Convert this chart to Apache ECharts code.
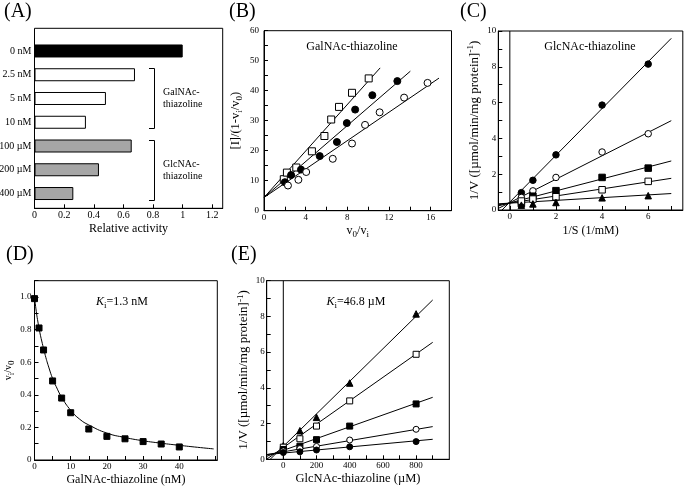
<!DOCTYPE html>
<html><head><meta charset="utf-8">
<script src="https://cdn.jsdelivr.net/npm/echarts@6/dist/echarts.min.js"></script>
<style>html,body{margin:0;padding:0;background:#fff}#c{width:685px;height:486px}</style>
</head><body><div id="c"></div>
<script>
const FONT = '"Liberation Serif", "Times New Roman", serif';

// ---------- Panel A ----------
const aCategories = ['0 nM', '2.5 nM', '5 nM', '10 nM', '100 µM', '200 µM', '400 µM'];
const aValues = [1.0, 0.678, 0.482, 0.347, 0.656, 0.435, 0.262];
const aFill = ['#000', '#fff', '#fff', '#fff', '#a6a6a6', '#a6a6a6', '#a6a6a6'];
const aXLabels = [0, 0.2, 0.4, 0.6, 0.8, 1, 1.2];

// ---------- Panel B ----------
const bSquareX = [1.9, 2.2, 3.1, 4.6, 5.8, 6.45, 7.2, 8.45, 10.05];
const bSquareY = [10.5, 12.7, 14.4, 19.8, 24.9, 30.4, 34.6, 39.3, 44.1];
const bFilledX = [2.0, 2.6, 3.55, 5.35, 7.0, 7.95, 8.75, 10.4, 12.8];
const bFilledY = [9.5, 11.9, 13.7, 18.2, 22.9, 29.2, 33.7, 38.5, 43.2];
const bOpenX = [2.3, 3.3, 4.05, 6.6, 8.45, 9.7, 11.1, 13.45, 15.7];
const bOpenY = [8.4, 10.3, 12.9, 17.3, 22.4, 28.6, 32.8, 37.7, 42.6];
const bLineStart = [4.4, 4.4, 4.4];          // y at x = 0
const bLineEndX = [11.15, 14.05, 16.8];
const bLineEndY = [47.6, 46.5, 44.2];
const bXLabels = [0, 4, 8, 12, 16];
const bYLabels = [0, 10, 20, 30, 40, 50, 60];

// ---------- Panel C ----------
const cX = [0.5, 1, 2, 4, 6];
const cFilledCircle = [0.97, 1.66, 3.08, 5.86, 8.15];
const cOpenCircle = [0.7, 1.07, 1.82, 3.24, 4.26];
const cFilledSquare = [0.36, 0.77, 1.08, 1.82, 2.34];
const cOpenSquare = [0.5, 0.61, 0.74, 1.13, 1.6];
const cTriangle = [0.27, 0.34, 0.42, 0.68, 0.8];
const cLineX = [-0.5, 7];
const cLineStart = [-0.21, 0.086, 0.23, 0.29, 0.346];
const cLineEnd = [9.59, 4.99, 2.74, 1.77, 0.92];
const cXLabels = [0, 2, 4, 6];
const cYLabels = [0, 2, 4, 6, 8, 10];

// ---------- Panel D ----------
const dX = [0, 1.25, 2.5, 5, 7.5, 10, 15, 20, 25, 30, 35, 40];
const dY = [0.99, 0.81, 0.675, 0.485, 0.38, 0.29, 0.19, 0.145, 0.13, 0.113, 0.098, 0.08];
const dCurveX = [0, 0.5, 1, 1.5, 2, 3, 4, 5, 6, 7.5, 10, 12.5, 15, 20, 25, 30, 35, 40, 45, 49.5];
const dCurveY = [1.0, 0.91, 0.84, 0.78, 0.73, 0.64, 0.565, 0.5, 0.45, 0.385, 0.305, 0.25, 0.215, 0.165, 0.138, 0.118, 0.103, 0.09, 0.078, 0.068];
const dXLabels = [0, 10, 20, 30, 40];
const dYLabels = [0, 0.2, 0.4, 0.6, 0.8, 1.0];

// ---------- Panel E ----------
const eX = [0, 100, 200, 400, 800];
const eTriangle = [0.76, 1.6, 2.35, 4.27, 8.14];
const eOpenSquare = [0.68, 1.15, 1.86, 3.27, 5.88];
const eFilledSquare = [0.55, 0.73, 1.1, 1.86, 3.1];
const eOpenCircle = [0.47, 0.6, 0.72, 1.08, 1.68];
const eFilledCircle = [0.38, 0.42, 0.52, 0.7, 0.99];
const eLineX = [-100, 900];
const eLineStart = [-0.19, 0.006, 0.17, 0.263, 0.264];
const eLineEnd = [8.92, 6.55, 3.47, 1.83, 1.12];
const eXLabels = [0, 200, 400, 600, 800];
const eYLabels = [0, 2, 4, 6, 8, 10];

// ---------- helpers ----------
function range(a, b, s) { const r = []; for (let v = a; v <= b + 1e-9; v += s) r.push(+v.toFixed(6)); return r; }
function zip(xs, ys) { return xs.map((x, i) => [x, ys[i]]); }
const BLACK = '#000';
const richSub = { sub: { fontSize: 9, verticalAlign: 'bottom', fontFamily: FONT, color: BLACK, lineHeight: 16 },
                  sup: { fontSize: 9, verticalAlign: 'top', fontFamily: FONT, color: BLACK, lineHeight: 16 } };

function valAxis(o) {
  return {
    type: 'value', gridIndex: o.grid, min: o.min, max: o.max,
    axisLine: { show: true, onZero: false, lineStyle: { color: BLACK, width: 1 } },
    axisTick: { show: true, inside: true, length: 4, customValues: o.ticks, lineStyle: { color: BLACK, width: 1 } },
    axisLabel: Object.assign({ show: true, customValues: o.labels, color: BLACK, fontFamily: FONT, fontSize: o.fs || 9, margin: o.margin == null ? 2 : o.margin },
      o.fmt ? { formatter: o.fmt } : {}),
    splitLine: { show: false },
    name: o.name || '', nameLocation: 'middle', nameGap: o.gap || 10,
    nameTextStyle: { color: BLACK, fontFamily: FONT, fontSize: o.nfs || 12, lineHeight: 16, rich: richSub }
  };
}
function gridBox(left, top, width, height, show) {
  return { left, top, width, height, show: show !== false, borderColor: BLACK, borderWidth: 1,
           backgroundColor: 'rgba(0,0,0,0)', containLabel: false, outerBoundsMode: 'none' };
}
function scatter(ax, xs, ys, symbol, filled, size) {
  return { type: 'scatter', xAxisIndex: ax, yAxisIndex: ax, data: zip(xs, ys), symbol, symbolSize: size,
           itemStyle: { color: filled ? BLACK : '#fff', borderColor: BLACK, borderWidth: 1, opacity: 1 }, z: 5, silent: true };
}
function seg(ax, xs, ys, smooth) {
  return { type: 'line', xAxisIndex: ax, yAxisIndex: ax, data: zip(xs, ys), symbol: 'none', smooth: !!smooth,
           lineStyle: { color: BLACK, width: 1 }, z: 3, silent: true, clip: true };
}

const series = [];
// A bars
series.push({ type: 'bar', xAxisIndex: 1, yAxisIndex: 1, barWidth: 13, silent: true,
  data: aValues.map((v, i) => ({ value: v, itemStyle: { color: aFill[i], borderColor: BLACK, borderWidth: 1 } })) });
// B
series.push(seg(2, [0, bLineEndX[0]], [bLineStart[0], bLineEndY[0]]));
series.push(seg(2, [0, bLineEndX[1]], [bLineStart[1], bLineEndY[1]]));
series.push(seg(2, [0, bLineEndX[2]], [bLineStart[2], bLineEndY[2]]));
series.push(scatter(2, bSquareX, bSquareY, 'rect', false, 7));
series.push(scatter(2, bFilledX, bFilledY, 'circle', true, 7));
series.push(scatter(2, bOpenX, bOpenY, 'circle', false, 7));
// C
series.push(seg(3, [0, 0], [0, 10]));
cLineStart.forEach((s, i) => series.push(seg(3, cLineX, [s, cLineEnd[i]])));
series.push(scatter(3, cX, cFilledCircle, 'circle', true, 6.5));
series.push(scatter(3, cX, cOpenCircle, 'circle', false, 6.5));
series.push(scatter(3, cX, cFilledSquare, 'rect', true, 6.5));
series.push(scatter(3, cX, cOpenSquare, 'rect', false, 6.5));
series.push(scatter(3, cX, cTriangle, 'triangle', true, 6.5));
// D
series.push(seg(4, dCurveX, dCurveY, 0.3));
series.push(scatter(4, dX, dY, 'rect', true, 6));
// E
series.push(seg(5, [0, 0], [0, 10]));
eLineStart.forEach((s, i) => series.push(seg(5, eLineX, [s, eLineEnd[i]])));
series.push(scatter(5, eX, eTriangle, 'triangle', true, 6.5));
series.push(scatter(5, eX, eOpenSquare, 'rect', false, 6));
series.push(scatter(5, eX, eFilledSquare, 'rect', true, 6));
series.push(scatter(5, eX, eOpenCircle, 'circle', false, 6));
series.push(scatter(5, eX, eFilledCircle, 'circle', true, 6));

const option = {
  animation: false,
  backgroundColor: '#fff',
  textStyle: { fontFamily: FONT },
  grid: [
    gridBox(34.5, 28.3, 188.2, 180),          // A frame
    gridBox(34.5, 39.1, 188.2, 166.3, false), // A bars
    gridBox(264, 30.7, 187.5, 180),           // B
    gridBox(498.3, 31, 184.5, 179),           // C
    gridBox(34.5, 280.7, 182.8, 179.3),       // D
    gridBox(266.7, 280.7, 182.6, 178.6)       // E
  ],
  xAxis: [
    valAxis({ grid: 0, min: 0, max: 1.27, labels: aXLabels, ticks: aXLabels, fs: 10, name: 'Relative activity', gap: 13, nfs: 12 }),
    { type: 'value', gridIndex: 1, min: 0, max: 1.27, show: false },
    valAxis({ grid: 2, min: 0, max: 18, labels: bXLabels, ticks: range(0, 18, 2), name: 'v{sub|0}/v{sub|i}', gap: 12, nfs: 12 }),
    valAxis({ grid: 3, min: -0.5, max: 7.5, labels: cXLabels, ticks: range(0, 7, 1), name: '1/S (1/mM)', gap: 13, nfs: 12 }),
    valAxis({ grid: 4, min: 0, max: 50.5, labels: dXLabels, ticks: range(0, 50, 5), name: 'GalNAc-thiazoline (nM)', gap: 10, nfs: 12 }),
    valAxis({ grid: 5, min: -100, max: 1000, labels: eXLabels, ticks: range(0, 900, 100), name: 'GlcNAc-thiazoline (µM)', gap: 10, nfs: 12.5 })
  ],
  yAxis: [
    { type: 'value', gridIndex: 0, min: 0, max: 1, show: false },
    { type: 'category', gridIndex: 1, data: aCategories, inverse: true,
      axisLine: { show: false }, axisTick: { show: false },
      axisLabel: { color: BLACK, fontFamily: FONT, fontSize: 10, margin: 3 } },
    valAxis({ grid: 2, min: 0, max: 60, labels: bYLabels, ticks: range(0, 60, 5), margin: 5, name: '[I]/(1-v{sub|i}/v{sub|0})', gap: 20, nfs: 12.5 }),
    valAxis({ grid: 3, min: 0, max: 10, labels: cYLabels, ticks: range(0, 10, 1), margin: 2, name: '1/V ([µmol/min/mg protein]{sup|-1})', gap: 16, nfs: 13 }),
    valAxis({ grid: 4, min: 0, max: 1.1, labels: dYLabels, ticks: range(0, 1.1, 0.1), margin: 3,
      fmt: v => (v === 0 ? '0' : v.toFixed(1)), name: 'v{sub|i}/v{sub|0}', gap: 17, nfs: 10 }),
    valAxis({ grid: 5, min: 0, max: 10, labels: eYLabels, ticks: range(0, 10, 1), margin: 2, name: '1/V ([µmol/min/mg protein]{sup|-1})', gap: 13, nfs: 13 })
  ],
  series,
  graphic: [
    { type: 'text', x: 4, y: 12, style: { text: '(A)', fontSize: 20, fontFamily: FONT, fill: BLACK, align: 'left', verticalAlign: 'middle' } },
    { type: 'text', x: 229, y: 12, style: { text: '(B)', fontSize: 20, fontFamily: FONT, fill: BLACK, align: 'left', verticalAlign: 'middle' } },
    { type: 'text', x: 460, y: 12, style: { text: '(C)', fontSize: 20, fontFamily: FONT, fill: BLACK, align: 'left', verticalAlign: 'middle' } },
    { type: 'text', x: 6, y: 255, style: { text: '(D)', fontSize: 20, fontFamily: FONT, fill: BLACK, align: 'left', verticalAlign: 'middle' } },
    { type: 'text', x: 231, y: 255, style: { text: '(E)', fontSize: 20, fontFamily: FONT, fill: BLACK, align: 'left', verticalAlign: 'middle' } },
    // A brackets
    { type: 'polyline', shape: { points: [[149, 68.5], [154.5, 68.5], [154.5, 128.5], [149, 128.5]] }, style: { stroke: BLACK, lineWidth: 1, fill: null } },
    { type: 'polyline', shape: { points: [[149, 140.5], [154.5, 140.5], [154.5, 200.5], [149, 200.5]] }, style: { stroke: BLACK, lineWidth: 1, fill: null } },
    { type: 'text', x: 163, y: 92, style: { text: 'GalNAc-', fontSize: 10, fontFamily: FONT, fill: BLACK, align: 'left', verticalAlign: 'middle' } },
    { type: 'text', x: 163, y: 104, style: { text: 'thiazoline', fontSize: 10, fontFamily: FONT, fill: BLACK, align: 'left', verticalAlign: 'middle' } },
    { type: 'text', x: 163, y: 164, style: { text: 'GlcNAc-', fontSize: 10, fontFamily: FONT, fill: BLACK, align: 'left', verticalAlign: 'middle' } },
    { type: 'text', x: 163, y: 176.5, style: { text: 'thiazoline', fontSize: 10, fontFamily: FONT, fill: BLACK, align: 'left', verticalAlign: 'middle' } },
    // inner titles
    { type: 'text', x: 352, y: 47, style: { text: 'GalNAc-thiazoline', fontSize: 12, fontFamily: FONT, fill: BLACK, align: 'center', verticalAlign: 'middle' } },
    { type: 'text', x: 590, y: 47, style: { text: 'GlcNAc-thiazoline', fontSize: 12, fontFamily: FONT, fill: BLACK, align: 'center', verticalAlign: 'middle' } },
    { type: 'text', x: 122, y: 302, style: { text: '{k|K}{s|i}=1.3 nM', fontSize: 12, fontFamily: FONT, fill: BLACK, align: 'center', verticalAlign: 'middle',
        rich: { k: { fontStyle: 'italic', fontSize: 12, fontFamily: FONT, lineHeight: 16 }, s: { fontSize: 9, fontFamily: FONT, verticalAlign: 'bottom', lineHeight: 16 } } } },
    { type: 'text', x: 356, y: 302, style: { text: '{k|K}{s|i}=46.8 µM', fontSize: 12, fontFamily: FONT, fill: BLACK, align: 'center', verticalAlign: 'middle',
        rich: { k: { fontStyle: 'italic', fontSize: 12, fontFamily: FONT, lineHeight: 16 }, s: { fontSize: 9, fontFamily: FONT, verticalAlign: 'bottom', lineHeight: 16 } } } }
  ]
};

const chart = echarts.init(document.getElementById('c'), null, { renderer: 'canvas' });
chart.setOption(option);
</script>
</body></html>
